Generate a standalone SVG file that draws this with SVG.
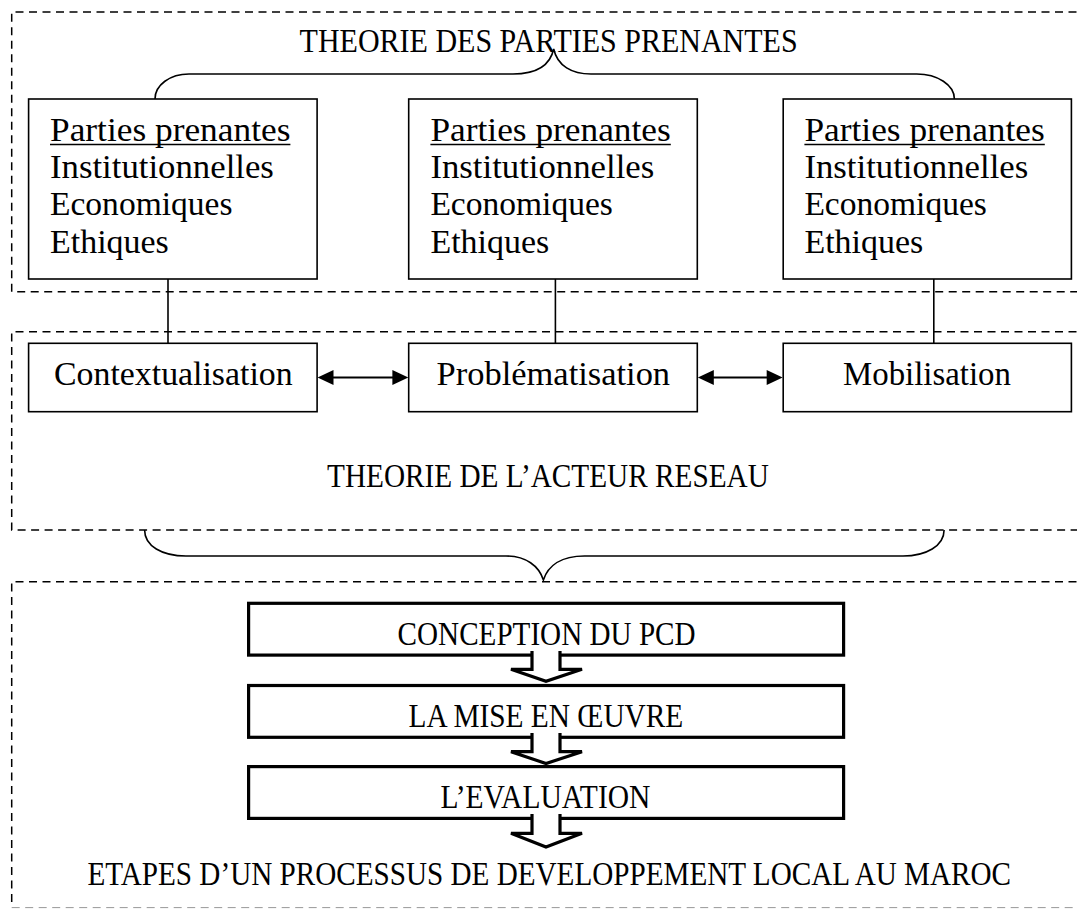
<svg xmlns="http://www.w3.org/2000/svg" width="1077" height="909" viewBox="0 0 1077 909">
<style>
text{font-family:"Liberation Serif","Times New Roman",serif;font-size:33px;fill:#000}
.dash{fill:none;stroke:#000;stroke-width:1.5;stroke-dasharray:8 5.5}
.box{fill:#fff;stroke:#000;stroke-width:1.6}
.fbox{fill:#fff;stroke:#000;stroke-width:3.2}
.ln{fill:none;stroke:#000;stroke-width:1.6}
.brace{fill:none;stroke:#000;stroke-width:1.6}
.barrow{fill:#fff;stroke:#000;stroke-width:3.2;stroke-linejoin:miter}
</style>
<rect width="1077" height="909" fill="#fff"/>

<g id="frames">
<path class="dash" d="M1090,12 H11.7 V291.7 H1090"/>
<path class="dash" d="M1090,331.7 H11.7 V530 H1090"/>
<path class="dash" d="M1090,581.7 H11.7 V907.5"/>
<line x1="11.7" y1="907.6" x2="1077" y2="907.6" stroke="#999" stroke-width="1" stroke-dasharray="8 5.5"/>
</g>

<g id="labels">
<text x="299.6" y="51.7" textLength="498" lengthAdjust="spacingAndGlyphs">THEORIE DES PARTIES PRENANTES</text>
<text x="327.1" y="486.7" textLength="441.7" lengthAdjust="spacingAndGlyphs">THEORIE DE L’ACTEUR RESEAU</text>
<text x="87.5" y="885" textLength="923.5" lengthAdjust="spacingAndGlyphs">ETAPES D’UN PROCESSUS DE DEVELOPPEMENT LOCAL AU MAROC</text>
</g>

<g id="connectors">
<path class="brace" d="M155,99 C155,85 170,74 189,74 L513,74 C535,74 550,66 553.7,49 C557.4,66 572,74 591,74 L916.7,74 C937.5,74 954.4,85 954.4,99"/>
<path class="brace" d="M144.6,530 C144.6,546 162,556 186,556 L506,556 C526,556 539,566 543.4,580 C548,566 561,556 584.5,556 L903,556 C926,556 944.1,546 944.1,530"/>
<line class="ln" x1="168" y1="279" x2="168" y2="343.3"/>
<line class="ln" x1="555.4" y1="279" x2="555.4" y2="343.3"/>
<line class="ln" x1="933.8" y1="279" x2="933.8" y2="343.3"/>
<line x1="330" y1="377.5" x2="396" y2="377.5" stroke="#000" stroke-width="2.2"/>
<path d="M317.6,377.5 L333.5,370 L333.5,385 Z" fill="#000"/>
<path d="M408.3,377.5 L392.4,370 L392.4,385 Z" fill="#000"/>
<line x1="710" y1="377.5" x2="771" y2="377.5" stroke="#000" stroke-width="2.2"/>
<path d="M697.9,377.5 L713.8,370 L713.8,385 Z" fill="#000"/>
<path d="M782.6,377.5 L766.7,370 L766.7,385 Z" fill="#000"/>
</g>

<g id="stakeholders-1">
<rect class="box" x="28.6" y="99" width="288.5" height="180"/>
<text x="50" y="141" textLength="240.4" lengthAdjust="spacingAndGlyphs">Parties prenantes</text>
<line x1="50" y1="144.5" x2="290.4" y2="144.5" stroke="#000" stroke-width="1.5"/>
<text x="50" y="177.5" textLength="223.9" lengthAdjust="spacingAndGlyphs">Institutionnelles</text>
<text x="50" y="215" textLength="182.5" lengthAdjust="spacingAndGlyphs">Economiques</text>
<text x="50" y="252.5" textLength="118.8" lengthAdjust="spacingAndGlyphs">Ethiques</text>
</g>
<g id="stakeholders-2">
<rect class="box" x="408.7" y="99" width="288.6" height="180"/>
<text x="430.4" y="141" textLength="240.4" lengthAdjust="spacingAndGlyphs">Parties prenantes</text>
<line x1="430.4" y1="144.5" x2="670.8" y2="144.5" stroke="#000" stroke-width="1.5"/>
<text x="430.4" y="177.5" textLength="223.9" lengthAdjust="spacingAndGlyphs">Institutionnelles</text>
<text x="430.4" y="215" textLength="182.5" lengthAdjust="spacingAndGlyphs">Economiques</text>
<text x="430.4" y="252.5" textLength="118.8" lengthAdjust="spacingAndGlyphs">Ethiques</text>
</g>
<g id="stakeholders-3">
<rect class="box" x="783.2" y="99" width="288.2" height="180"/>
<text x="804.4" y="141" textLength="240.4" lengthAdjust="spacingAndGlyphs">Parties prenantes</text>
<line x1="804.4" y1="144.5" x2="1044.8" y2="144.5" stroke="#000" stroke-width="1.5"/>
<text x="804.4" y="177.5" textLength="223.9" lengthAdjust="spacingAndGlyphs">Institutionnelles</text>
<text x="804.4" y="215" textLength="182.5" lengthAdjust="spacingAndGlyphs">Economiques</text>
<text x="804.4" y="252.5" textLength="118.8" lengthAdjust="spacingAndGlyphs">Ethiques</text>
</g>

<g id="contextualisation">
<rect class="box" x="28.6" y="343.3" width="288.5" height="68.4"/>
<text x="54" y="385" textLength="238.7" lengthAdjust="spacingAndGlyphs">Contextualisation</text>
</g>
<g id="problematisation">
<rect class="box" x="408.7" y="343.3" width="288.6" height="68.4"/>
<text x="436.6" y="385" textLength="233.5" lengthAdjust="spacingAndGlyphs">Problématisation</text>
</g>
<g id="mobilisation">
<rect class="box" x="783.2" y="343.3" width="288.2" height="68.4"/>
<text x="843.1" y="385" textLength="167.8" lengthAdjust="spacingAndGlyphs">Mobilisation</text>
</g>

<g id="conception">
<rect class="fbox" x="248.6" y="603.3" width="595" height="51.8"/>
<text x="397.6" y="644.5" textLength="298" lengthAdjust="spacingAndGlyphs">CONCEPTION DU PCD</text>
</g>
<g id="mise-en-oeuvre">
<rect class="fbox" x="248.6" y="685.5" width="595" height="51.8"/>
<text x="408.6" y="727" textLength="274.7" lengthAdjust="spacingAndGlyphs">LA MISE EN ŒUVRE</text>
</g>
<g id="evaluation">
<rect class="fbox" x="248.6" y="766.6" width="595" height="51.8"/>
<text x="440.4" y="808.3" textLength="210" lengthAdjust="spacingAndGlyphs">L’EVALUATION</text>
</g>

<g id="flow-arrows">
<path class="barrow" d="M532,651 V669.3 H511 L546,681.3 L582,669.3 H560 V651"/>
<path class="barrow" d="M532,733 V751.7 H511 L546,763.5 L582,751.7 H560 V733"/>
<path class="barrow" d="M532,814 V833.3 H511 L546,847 L582,833.3 H560 V814"/>
</g>
</svg>
